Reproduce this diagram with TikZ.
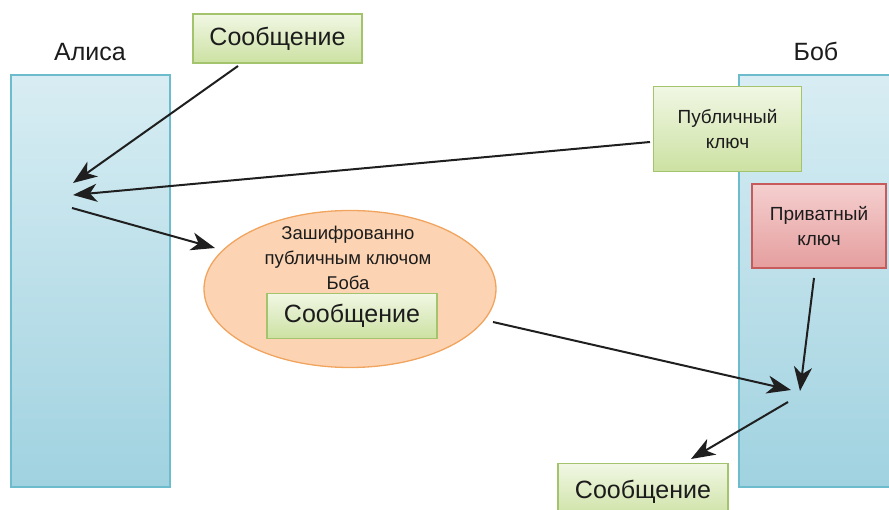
\documentclass[tikz,border=0pt]{standalone}
\usepackage{fontspec}
\setmainfont{Liberation Sans}
\usetikzlibrary{arrows.meta,shapes.geometric}
\definecolor{laneTop}{HTML}{D8EDF3}
\definecolor{laneBot}{HTML}{A0D2E0}
\definecolor{laneLine}{HTML}{6CBCCD}
\definecolor{grnTop}{HTML}{F1F7E4}
\definecolor{grnBot}{HTML}{CCE1A2}
\definecolor{grnLine}{HTML}{A3C46C}
\definecolor{redTop}{HTML}{F5CFCF}
\definecolor{redBot}{HTML}{E59E9E}
\definecolor{redLine}{HTML}{C75B5B}
\definecolor{ellFill}{HTML}{FCD4B3}
\definecolor{ellLine}{HTML}{F0A45E}
\definecolor{txt}{HTML}{1C1C1C}
\tikzset{
  lane/.style={draw=laneLine, line width=1.3pt, top color=laneTop, bottom color=laneBot},
  grnbox/.style={draw=grnLine, line width=1.2pt, top color=grnTop, bottom color=grnBot, text=txt, inner sep=0pt, align=center},
  redbox/.style={draw=redLine, line width=1.2pt, top color=redTop, bottom color=redBot, text=txt, inner sep=0pt, align=center},
  bigtxt/.style={font=\fontsize{25}{28}\selectfont, text=txt},
  keytxt/.style={font=\fontsize{19}{25}\selectfont},
  flow/.style={draw=black!88, line width=2pt, -{Stealth[length=24pt,width=18pt,inset=7pt]}},
}
\begin{document}
\begin{tikzpicture}[x=1pt,y=-1pt]
\useasboundingbox (0,0) rectangle (889,510);
% lanes
\path[lane] (11,75) rectangle (170,487);
\path[lane] (739,75) rectangle (900,487);
\node[bigtxt] (alice) at (90,52) {Алиса};
\node[bigtxt] (bob) at (816,51) {Боб};
% boxes
\node[grnbox, bigtxt, minimum width=169pt, minimum height=49pt] (msg1) at (277.5,38.5) {Сообщение};
\node[grnbox, keytxt, minimum width=148pt, minimum height=85pt] (pub) at (727.5,129) {Публичный\\ключ};
\node[redbox, keytxt, minimum width=134pt, minimum height=84pt] (priv) at (819,226) {Приватный\\ключ};
% ellipse
\node[ellipse, draw=ellLine, line width=1.3pt, fill=ellFill, minimum width=292pt, minimum height=157pt] (enc) at (350,289) {};
\node[text=txt, font=\fontsize{18.5}{25}\selectfont, align=center] (enctxt) at (348,258) {Зашифрованно\\публичным ключом\\Боба};
\node[grnbox, bigtxt, minimum width=170pt, minimum height=45pt] (msg2) at (352,316) {Сообщение};
\node[grnbox, bigtxt, minimum width=170pt, minimum height=56pt, anchor=north] (msg3) at (643,463) {Сообщение};
% connector ends
\coordinate (m1s) at (238,66);
\coordinate (a1) at (73,183);
\coordinate (p1s) at (650,142);
\coordinate (a2) at (73,195);
\coordinate (a3s) at (72,208);
\coordinate (e1) at (215,248);
\coordinate (e2s) at (493,322);
\coordinate (b1) at (791,390);
\coordinate (k1s) at (814,278);
\coordinate (b2) at (800,391);
\coordinate (b3s) at (788,402);
\coordinate (m3) at (691,459);
% connectors
\draw[flow] (m1s) -- (a1);
\draw[flow] (p1s) -- (a2);
\draw[flow] (a3s) -- (e1);
\draw[flow] (e2s) -- (b1);
\draw[flow] (k1s) -- (b2);
\draw[flow] (b3s) -- (m3);
\end{tikzpicture}
\end{document}
